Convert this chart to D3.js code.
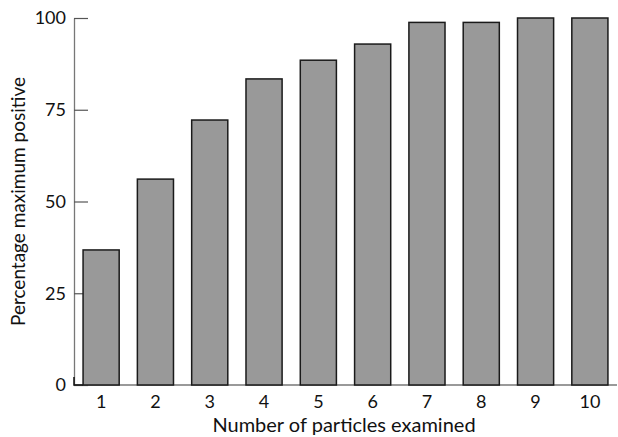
<!DOCTYPE html>
<html>
<head>
<meta charset="utf-8">
<script src="https://cdn.jsdelivr.net/npm/d3@7"></script>
<style>
  body { margin: 0; background: #fff; }
  text { font-family: Lato, 'Open Sans', sans-serif; fill: #111; }
</style>
</head>
<body>
<div id="chart-area"></div>
<script>
const width = 618;
const height = 437;

// particles examined vs percentage of maximum positive
const particles = ['1', '2', '3', '4', '5', '6', '7', '8', '9', '10'];
const percentPositive = [36.8, 56.1, 72.2, 83.4, 88.5, 92.9, 98.8, 98.8, 100, 100];
const yTicks = [0, 25, 50, 75, 100];

const margin = { top: 18, right: 1, bottom: 52, left: 74 };

const svg = d3
  .select('#chart-area')
  .append('svg')
  .attr('width', width)
  .attr('height', height);

const x = d3
  .scaleBand()
  .domain(particles)
  .range([margin.left, width - margin.right])
  .paddingInner(0.335)
  .paddingOuter(0.167);

const y = d3
  .scaleLinear()
  .domain([0, 100])
  .range([height - margin.bottom, margin.top]);

// y axis, ticks pointing inwards
const yAxis = svg
  .append('g')
  .attr('transform', `translate(${margin.left},0)`)
  .call(d3.axisRight(y).tickValues(yTicks).tickSize(14).tickSizeOuter(0).tickFormat(d3.format('d')));
yAxis.select('.domain').attr('stroke', '#777').attr('stroke-width', 1.3);
yAxis.selectAll('.tick line').attr('stroke', '#555').attr('stroke-width', 1.2);
yAxis
  .selectAll('.tick text')
  .attr('x', -8)
  .attr('text-anchor', 'end')
  .attr('font-size', 18)
  .attr('fill', '#111');
yAxis.attr('font-family', null);

// x axis
const xAxis = svg
  .append('g')
  .attr('transform', `translate(0,${height - margin.bottom})`)
  .call(d3.axisBottom(x).tickSize(0).tickSizeOuter(0).tickPadding(10));
xAxis
  .select('.domain')
  .attr('stroke', '#777')
  .attr('stroke-width', 1.3)
  .attr('d', `M${margin.left},0H${width - 1}`);
xAxis.selectAll('.tick text').attr('font-size', 18).attr('fill', '#111');
xAxis.attr('font-family', null);

// small dark corner at origin
svg
  .append('path')
  .attr('d', `M${margin.left},${y(0) - 8}V${y(0)}H${x('1')}`)
  .attr('fill', 'none')
  .attr('stroke', '#111')
  .attr('stroke-width', 1.5);

// bars
svg
  .append('g')
  .selectAll('rect')
  .data(percentPositive)
  .join('rect')
  .attr('x', (d, i) => x(particles[i]))
  .attr('y', (d) => y(d))
  .attr('width', x.bandwidth())
  .attr('height', (d) => y(0) - y(d))
  .attr('fill', '#999999')
  .attr('stroke', '#1a1a1a')
  .attr('stroke-width', 1.5);

// axis titles
svg
  .append('text')
  .attr('x', 344)
  .attr('y', 432)
  .attr('text-anchor', 'middle')
  .attr('font-size', 20)
  .text('Number of particles examined');

svg
  .append('text')
  .attr('transform', `translate(25,${y(50)}) rotate(-90)`)
  .attr('text-anchor', 'middle')
  .attr('font-size', 19)
  .text('Percentage maximum positive');
</script>
</body>
</html>
